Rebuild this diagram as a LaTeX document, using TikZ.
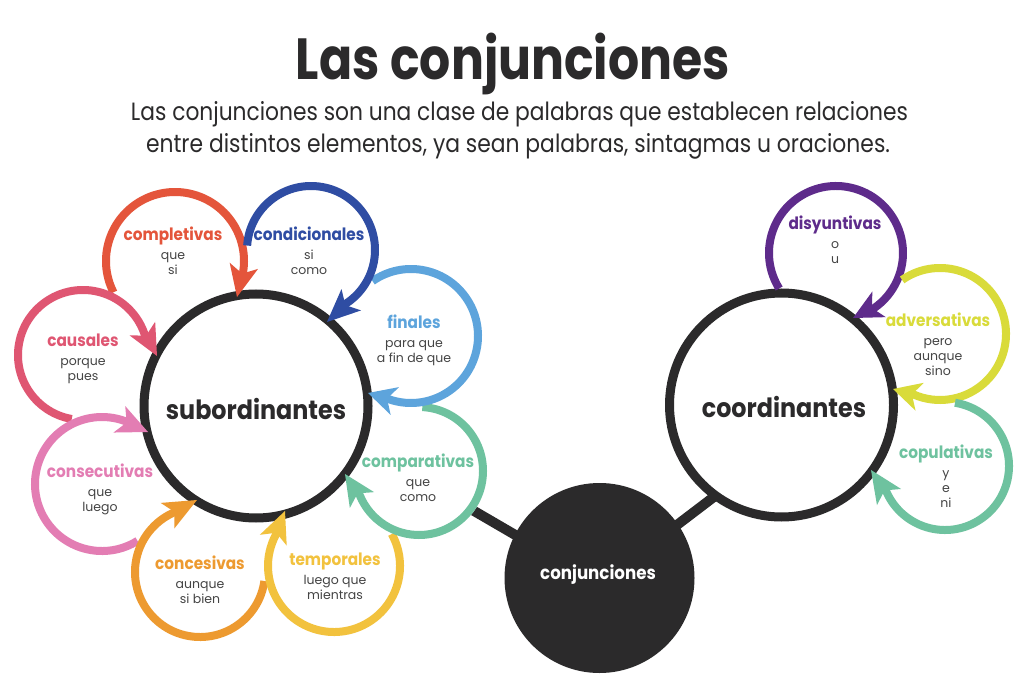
\documentclass[tikz,border=0pt]{standalone}
\usepackage{fontspec}
\setmainfont{Poppins}
\newfontfamily\narrowfont[FakeStretch=0.9]{Poppins}
\usetikzlibrary{calc}
\definecolor{dark}{HTML}{2B2A2B}
\definecolor{itemgray}{HTML}{444444}
\definecolor{ccompl}{HTML}{E4553B}
\definecolor{ccaus}{HTML}{DF5672}
\definecolor{cconse}{HTML}{E37DB3}
\definecolor{cconce}{HTML}{ED9A30}
\definecolor{ctemp}{HTML}{F2C23E}
\definecolor{ccompa}{HTML}{6EC29F}
\definecolor{cfin}{HTML}{5DA4DC}
\definecolor{ccond}{HTML}{2F4DA3}
\definecolor{cdisy}{HTML}{5E2B8B}
\definecolor{cadv}{HTML}{D9DB3A}
\definecolor{ccopu}{HTML}{6EC29F}
\tikzset{
  ringline/.style={line width=8pt},
  mainring/.style={circle, draw=dark, line width=9pt, fill=white, minimum size=224pt, inner sep=0pt},
  conn/.style={draw=dark, line width=10pt},
  ttl/.style={font=\narrowfont\bfseries\fontsize{17}{17}\selectfont, anchor=base, inner sep=0pt},
  itm/.style={font=\fontsize{12.5}{12.5}\selectfont, text=itemgray, anchor=base, inner sep=0pt},
  big/.style={font=\narrowfont\bfseries\fontsize{26.5}{26.5}\selectfont, text=dark, anchor=base, inner sep=0pt}
}
\def\ringdata{completivas/ccompl/175/261/69/153/364/237/297,
causales/ccaus/83/355/65/100/336/157/356,
consecutivas/cconse/102/484/67/58/285/148/432,
concesivas/cconce/200/572/65/8/240/197/500,
temporales/ctemp/334/566/66/-29/203/285/511,
comparativas/ccompa/419/471/64/-87/153/345/474,
finales/cfin/411/336/67/-125/104/368/393,
condicionales/ccond/311/250/64/184/411/327/322,
disyuntivas/cdisy/836/253/67/148/410/853/318,
adversativas/cadv/940/334/66/-125/108/893/389,
copulativas/ccopu/945/466/64/-81/151/871/470}
\def\textdata{completivas/ccompl/173/236/{que,si},
causales/ccaus/83/341/{porque,pues},
consecutivas/cconse/100/472/{que,luego},
concesivas/cconce/200/564/{aunque,si bien},
temporales/ctemp/335/560/{luego que,mientras},
comparativas/ccompa/418/462/{que,como},
finales/cfin/414/323/{para que,a fin de que},
condicionales/ccond/309/236/{si,como},
disyuntivas/cdisy/835/225/{o,u},
adversativas/cadv/938/321/{pero,aunque,sino},
copulativas/ccopu/946/453/{y,e,ni}}
\begin{document}
\begin{tikzpicture}[x=1pt,y=1pt]
\useasboundingbox (0,0) rectangle (1024,-684);
\fill[white] (0,0) rectangle (1024,-684);
% heading
\node[anchor=base, inner sep=0pt, text=dark] (title) at (513,-80)
  {\resizebox{434pt}{\height}{\bfseries\fontsize{58}{58}\selectfont Las conjunciones}};
\node[anchor=base, inner sep=0pt, text=dark] (sub1) at (519.5,-121)
  {\resizebox{777pt}{\height}{\fontsize{25}{25}\selectfont Las conjunciones son una clase de palabras que establecen relaciones}};
\node[anchor=base, inner sep=0pt, text=dark] (sub2) at (518,-153)
  {\resizebox{744pt}{\height}{\fontsize{25}{25}\selectfont entre distintos elementos, ya sean palabras, sintagmas u oraciones.}};
% connectors
\coordinate (lnO) at (599.5,-584);
\coordinate (lnL) at (256,-384);
\coordinate (lnR) at (782,-445);
\draw[conn] (lnO) -- (lnL);
\draw[conn] (lnO) -- (lnR);
% white discs of the rings
\foreach \n/\col/\cx/\cy/\r/\s/\e/\tx/\ty in \ringdata {
  \coordinate (\n-c) at (\cx,-\cy);
  \fill[white] (\n-c) circle[radius=\r+4];
}
% main circles
\node[mainring] (sub) at (256,-406) {};
\node[mainring] (coord) at (781.5,-405) {};
\node[circle, fill=dark, minimum size=190pt, inner sep=0pt] (conj) at (599.5,-578) {};
% ring arcs with arrowheads
\foreach \n/\col/\cx/\cy/\r/\s/\e/\tx/\ty in \ringdata {
  \coordinate (\n-b) at ($(\n-c)+({-(\e)}:\r)$);
  \coordinate (\n-tip) at (\tx,-\ty);
  \draw[ringline, draw=\col] ($(\n-c)+({-(\s)}:\r)$) arc[start angle={-(\s)}, end angle={-(\e)-9}, radius=\r];
  \fill[\col] (\n-tip) -- ($(\n-b)!14.5pt!90:(\n-tip)$) -- ($(\n-b)!8pt!(\n-tip)$) -- ($(\n-b)!14.5pt!-90:(\n-tip)$) -- cycle;
}
% ring texts
\foreach \n/\col/\x/\y/\items in \textdata {
  \node[ttl, text=\col] (\n-t) at (\x,{-\y-5}) {\n};
  \foreach \it [count=\k] in \items {
    \node[itm] (\n-\k) at (\x,{-\y-24-15*(\k-1)}) {\it};
  }
}
% main labels
\node[big] (sublbl) at (256,-419) {subordinantes};
\node[big] (coordlbl) at (784,-417) {coordinantes};
\node[anchor=base, inner sep=0pt, text=white, font=\narrowfont\bfseries\fontsize{18.5}{18.5}\selectfont] (conjlbl) at (598,-579) {conjunciones};
\end{tikzpicture}
\end{document}
